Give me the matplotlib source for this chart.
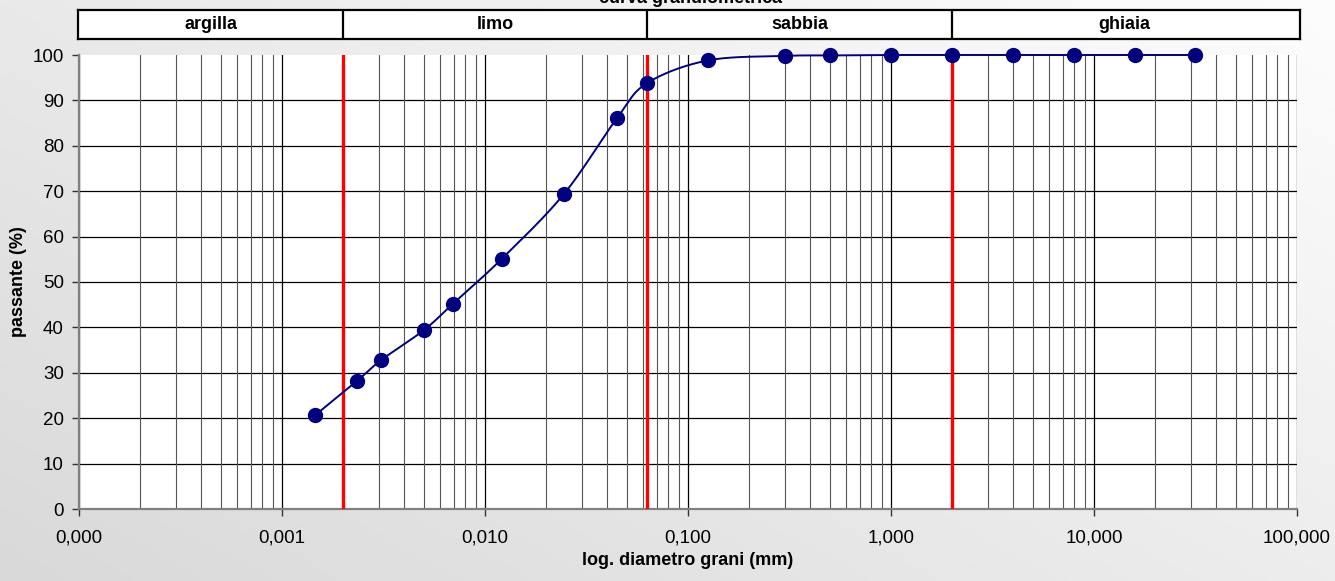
import numpy as np
import matplotlib.pyplot as plt
from matplotlib import font_manager
from matplotlib.ticker import FixedLocator, FuncFormatter, NullFormatter, LogLocator

# diametro dei grani (mm) e percentuale passante
diametro = [0.00146, 0.00234, 0.00308, 0.0050, 0.00695, 0.0121, 0.0245, 0.0447,
            0.0628, 0.125, 0.3, 0.5, 1.0, 2.0, 4.0, 8.0, 16.0, 31.5]
passante = [20.7, 28.2, 32.8, 39.4, 45.2, 55.1, 69.4, 86.1,
            93.8, 98.8, 99.8, 99.9, 100, 100, 100, 100, 100, 100]

# limiti delle classi granulometriche (mm)
limiti = [0.0001, 0.002, 0.063, 2.0, 100.0]
classi = ['argilla', 'limo', 'sabbia', 'ghiaia']

xmin, xmax = 1e-4, 100.0

nomi = {f.name for f in font_manager.fontManager.ttflist}
narrow = 'Liberation Sans Narrow' if 'Liberation Sans Narrow' in nomi else 'Liberation Sans'
plt.rcParams['font.family'] = 'Liberation Sans'


def smooth(x, y, n=40):
    # curva levigata tipo Excel (Bezier con tangenti 1/6) in coordinate schermo
    u = (np.log10(x) + 4) / 6 * 1218
    v = np.asarray(y, float) / 100 * 454
    p = np.column_stack([u, v])
    out = []
    t = np.linspace(0, 1, n)[:, None]
    for i in range(len(p) - 1):
        p0 = p[i - 1] if i > 0 else p[i]
        p3 = p[i + 2] if i + 2 < len(p) else p[i + 1]
        c1 = p[i] + (p[i + 1] - p0) / 6
        c2 = p[i + 1] - (p3 - p[i]) / 6
        seg = (1 - t) ** 3 * p[i] + 3 * (1 - t) ** 2 * t * c1 + 3 * (1 - t) * t ** 2 * c2 + t ** 3 * p[i + 1]
        out.append(seg)
    s = np.vstack(out)
    return 10 ** (s[:, 0] / 1218 * 6 - 4), s[:, 1] / 454 * 100


W, H = 1335, 581
fig = plt.figure(figsize=(W / 100, H / 100), dpi=100)

# sfondo grigio sfumato
bg = fig.add_axes([0, 0, 1, 1], zorder=-10)
xx, yy = np.meshgrid(np.linspace(0, 1, 300), np.linspace(1, 0, 150))
val = (217 + 20 * xx + 16 * yy) / 255
bg.imshow(np.dstack([val, val, val]), aspect='auto', extent=[0, 1, 0, 1])
bg.axis('off')

L, R, T, B = 79, 1297, 55, 509
ax = fig.add_axes([L / W, 1 - B / H, (R - L) / W, (B - T) / H])
ax.set_facecolor('white')
ax.set_xscale('log')
ax.set_xlim(xmin, xmax)
ax.set_ylim(0, 100)

ax.xaxis.set_major_locator(FixedLocator([1e-4, 1e-3, 1e-2, 1e-1, 1, 10, 100]))
ax.xaxis.set_minor_locator(LogLocator(base=10, subs=np.arange(2, 10), numticks=20))
ax.xaxis.set_major_formatter(FuncFormatter(lambda v, p: f'{v:.3f}'.replace('.', ',')))
ax.xaxis.set_minor_formatter(NullFormatter())
ax.set_yticks(np.arange(0, 101, 10))

ax.grid(which='major', axis='x', color='black', lw=0.9)
ax.grid(which='minor', axis='x', color='#555555', lw=0.8)
for yv in range(10, 100, 10):
    ax.axhline(yv, color='black', lw=0.9, zorder=0.5)
ax.set_axisbelow(True)

for s in ['top', 'right']:
    ax.spines[s].set_visible(False)
for s in ['left', 'bottom']:
    ax.spines[s].set_color('#808080')
    ax.spines[s].set_linewidth(1.6)

ax.tick_params(axis='both', which='major', direction='out', length=5, width=1,
               color='#333333', labelsize=13.5, pad=6)
ax.tick_params(axis='x', which='minor', length=0)
ax.tick_params(axis='x', which='major', pad=10)

for lim in limiti[1:-1]:
    ax.axvline(lim, ymin=0, ymax=1, color='red', lw=2.4, zorder=3)

xs, ys = smooth(diametro, passante)
ax.plot(xs, ys, color='#000080', lw=1.4, zorder=4, clip_on=False)
ax.plot(diametro, passante, 'o', color='#000080', ms=10, zorder=5, clip_on=False)

ax.set_xlabel('log. diametro grani (mm)', family=narrow, fontweight='bold', fontsize=13, labelpad=4)
ax.set_ylabel('passante (%)', family=narrow, fontweight='bold', fontsize=13, labelpad=4)

# fascia delle classi granulometriche
bL, bR, bT, bB = 78, 1300, 10, 39
bx = fig.add_axes([bL / W, 1 - bB / H, (bR - bL) / W, (bB - bT) / H])
bx.set_xscale('log')
bx.set_xlim(10 ** (-4 - (L - bL) / 203), 10 ** (2 + (bR - R) / 203))
bx.set_ylim(0, 1)
bx.set_facecolor('white')
bx.set_xticks([])
bx.set_yticks([])
bx.minorticks_off()
for s in bx.spines.values():
    s.set_linewidth(1.6)
for lim in limiti[1:-1]:
    bx.axvline(lim, color='black', lw=1.6)
for i, nome in enumerate(classi):
    xc = np.sqrt(limiti[i] * limiti[i + 1])
    bx.text(xc, 0.5, nome, ha='center', va='center', family=narrow,
            fontweight='bold', fontsize=13)

fig.text(0.517, 1 - 3 / H, 'curva granulometrica', ha='center', va='baseline',
         family=narrow, fontweight='bold', fontsize=13)

fig.savefig('out.png', dpi=100)
